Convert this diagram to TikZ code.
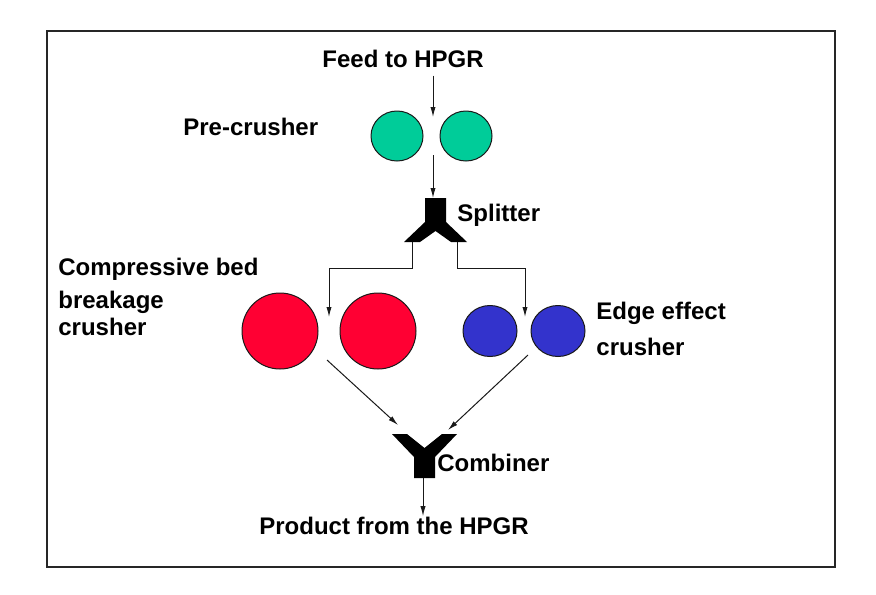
\documentclass[tikz,border=0pt]{standalone}
\usepackage{fontspec}
\setsansfont{Liberation Sans}
\usetikzlibrary{positioning,arrows.meta,shapes}

\definecolor{rollgreen}{RGB}{0,204,153}
\definecolor{rollred}{RGB}{255,0,51}
\definecolor{rollblue}{RGB}{51,51,204}

\begin{document}
\begin{tikzpicture}[
  x=0.5pt, y=-0.5pt,
  font=\sffamily\bfseries\fontsize{12}{14}\selectfont,
  lbl/.style={inner sep=0pt, anchor=base west},
  roll/.style={ellipse, draw=black!90, line width=0.5pt, inner sep=0pt},
  pre/.style={roll, fill=rollgreen, minimum width=26pt, minimum height=25pt},
  bed/.style={roll, fill=rollred, minimum width=38pt, minimum height=38pt},
  edg/.style={roll, fill=rollblue, minimum width=27pt, minimum height=25.5pt},
  flow/.style={-{Latex[length=5pt,width=2.6pt]}, draw=black!90, line width=0.5pt},
  junc/.style={fill=black}
]
\useasboundingbox (0,0) rectangle (876,594);
\draw[black!85, line width=0.7pt] (47,31) rectangle (835,567);

% labels
\node[lbl] (feed)  at (322,67)  {Feed to HPGR};
\node[lbl] (prel)  at (183,135) {Pre-crusher};
\node[lbl] (spll)  at (457,221) {Splitter};
\node[lbl] (bedl1) at (58,275)  {Compressive bed};
\node[lbl] (bedl2) at (58,308)  {breakage};
\node[lbl] (bedl3) at (58,335)  {crusher};
\node[lbl] (edgl1) at (596,319) {Edge effect};
\node[lbl] (edgl2) at (596,355) {crusher};
\node[lbl] (cmbl)  at (437,471) {Combiner};
\node[lbl] (prod)  at (259,534) {Product from the HPGR};

% rolls
\node[pre] (pre1) at (397,136) {};
\node[pre] (pre2) at (466,136) {};
\node[bed] (bed1) at (280,331) {};
\node[bed] (bed2) at (378,331) {};
\node[edg] (edg1) at (490,331) {};
\node[edg] (edg2) at (558,331) {};

% splitter and combiner
\fill[junc] (425,198) coordinate (spl-in) -- (446,198) -- (446,222) -- (467,242)
  -- (451,242) -- (435.5,231) -- (420,242) -- (404,242) -- (425,222) -- cycle;
\coordinate (spl-l) at (412,242);
\coordinate (spl-r) at (457,242);
\fill[junc] (392,434) -- (407,434) -- (424.5,448) -- (442,434) -- (457,434)
  -- (435,457) -- (435,478) -- (414,478) -- (414,457) -- cycle;
\coordinate (cmb-l)   at (398,425);
\coordinate (cmb-r)   at (448,430);
\coordinate (cmb-out) at (423,478);

% gaps between the rolls
\coordinate (pretop) at (433,117);
\coordinate (prebot) at (433,155);
\coordinate (bedtop) at (329,317);
\coordinate (bedbot) at (327,360);
\coordinate (edgtop) at (525,317);
\coordinate (edgbot) at (528,355);

\draw[flow, shorten <=4pt] (pretop |- feed.south) -- (pretop);
\draw[flow] (prebot) -- (prebot |- spl-in);
\draw[flow] (spl-l) -- ++(0,26) -| (bedtop);
\draw[flow] (spl-r) -- ++(0,26) -| (edgtop);
\draw[flow] (bedbot) -- (cmb-l);
\draw[flow] (edgbot) -- (cmb-r);
\draw[flow] (cmb-out) -- (cmb-out |- prod.north);
\end{tikzpicture}
\end{document}
